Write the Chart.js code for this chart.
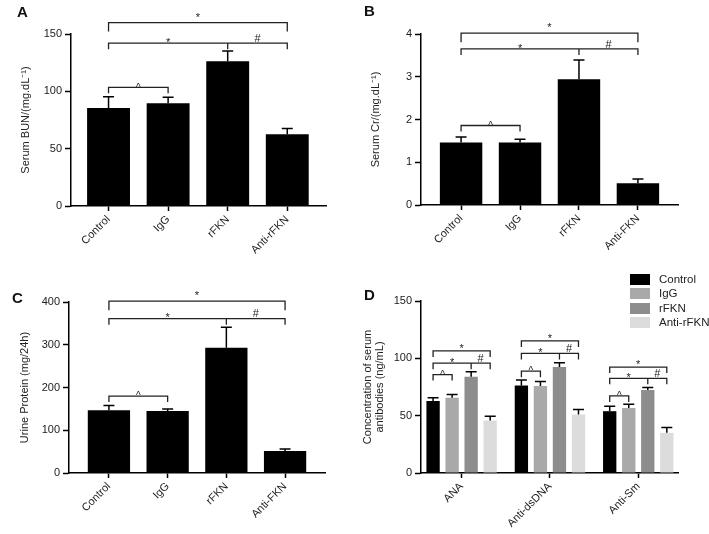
<!DOCTYPE html>
<html>
<head>
<meta charset="utf-8">
<script src="https://cdn.jsdelivr.net/npm/chart.js@4.4.0/dist/chart.umd.min.js"></script>
<style>
  body { margin: 0; background: #fff; }
  #fig { position: relative; width: 709px; height: 534px; font-family: "Liberation Sans", Arial, sans-serif; color: #222; }
  #fig canvas { position: absolute; }
  .tag { position: absolute; font-weight: bold; font-size: 15px; line-height: 15px; color: #111; }
  .key { position: absolute; left: 630px; width: 20px; height: 11px; }
  .keytxt { position: absolute; left: 659px; font-size: 11.5px; line-height: 11px; white-space: nowrap; }
</style>
</head>
<body>
<div id="fig">
  <canvas id="cA" width="350" height="265" style="left:0;top:0"></canvas>
  <canvas id="cB" width="359" height="265" style="left:350px;top:0"></canvas>
  <canvas id="cC" width="350" height="269" style="left:0;top:265px"></canvas>
  <canvas id="cD" width="359" height="269" style="left:350px;top:265px"></canvas>
  <div class="tag" style="left:17px;top:4px">A</div>
  <div class="tag" style="left:364px;top:3px">B</div>
  <div class="tag" style="left:12px;top:290px">C</div>
  <div class="tag" style="left:364px;top:287px">D</div>
  <div id="legend"></div>
</div>
<script>
// ---- data ----
const groupsA = ['Control', 'IgG', 'rFKN', 'Anti-rFKN'];
const groupsBC = ['Control', 'IgG', 'rFKN', 'Anti-FKN'];

const bunMean = [85.5, 89.6, 126.2, 62.5];
const bunErr = [9.8, 5.2, 9.0, 5.0];
const crMean = [1.46, 1.46, 2.94, 0.51];
const crErr = [0.13, 0.08, 0.45, 0.10];
const upMean = [147, 145.3, 293, 51.6];
const upErr = [11, 4.7, 47.7, 4.4];

const antibodies = ['ANA', 'Anti-dsDNA', 'Anti-Sm'];
const seriesNames = ['Control', 'IgG', 'rFKN', 'Anti-rFKN'];
const abControl = [62.7, 76.4, 53.9];
const abControlErr = [2.9, 4.6, 4.4];
const abIgG = [65.6, 75.8, 56.6];
const abIgGErr = [2.9, 4.1, 3.4];
const abRFKN = [84.0, 92.4, 72.3];
const abRFKNErr = [4.3, 3.8, 2.3];
const abAnti = [45.8, 51.0, 35.0];
const abAntiErr = [3.8, 4.4, 4.7];
const seriesColors = ['#000000', '#a9a9a9', '#8d8d8d', '#dcdcdc'];

const yTicksA = [0, 50, 100, 150];
const yTicksB = [0, 1, 2, 3, 4];
const yTicksC = [0, 100, 200, 300, 400];
const yTicksD = [0, 50, 100, 150];

// significance brackets (level in axis units)
const sigA = [
  { from: 0, to: 3, y: 160, text: ['*'] },
  { from: 0, to: 3, mid: 2, y: 142, text: ['*', '#'] },
  { from: 0, to: 1, y: 103.5, text: ['^'] }
];
const sigB = [
  { from: 0, to: 3, y: 4.02, text: ['*'] },
  { from: 0, to: 3, mid: 2, y: 3.65, text: ['*', '#'] },
  { from: 0, to: 1, y: 1.86, text: ['^'] }
];
const sigC = [
  { from: 0, to: 3, y: 402, text: ['*'] },
  { from: 0, to: 3, mid: 2, y: 361, text: ['*', '#'] },
  { from: 0, to: 1, y: 180, text: ['^'] }
];
const sigD = [
  { group: 0, from: 0, to: 3, y: 106.5, text: ['*'] },
  { group: 0, from: 0, to: 3, mid: 2, y: 95.8, text: ['*', '#'] },
  { group: 0, from: 0, to: 1, y: 85.8, text: ['^'] },
  { group: 1, from: 0, to: 3, y: 115.2, text: ['*'] },
  { group: 1, from: 0, to: 3, mid: 2, y: 104.3, text: ['*', '#'] },
  { group: 1, from: 0, to: 1, y: 88.8, text: ['^'] },
  { group: 2, from: 0, to: 3, y: 92.4, text: ['*'] },
  { group: 2, from: 0, to: 3, mid: 2, y: 82.6, text: ['*', '#'] },
  { group: 2, from: 0, to: 1, y: 67.2, text: ['^'] }
];

Chart.defaults.font.family = '"Liberation Sans", Arial, sans-serif';
Chart.defaults.font.size = 11;
Chart.defaults.color = '#222';

// error bars (upper only, with cap)
const errorBars = {
  id: 'errorBars',
  afterDatasetsDraw(chart) {
    const ctx = chart.ctx;
    const y = chart.scales.y;
    ctx.save();
    ctx.strokeStyle = '#000';
    ctx.lineWidth = 1.5;
    chart.data.datasets.forEach((ds, i) => {
      chart.getDatasetMeta(i).data.forEach((bar, j) => {
        const top = y.getPixelForValue(ds.data[j].y + ds.err[j]);
        const half = Math.min(5.5, bar.width / 2 - 0.5);
        ctx.beginPath();
        ctx.moveTo(bar.x, bar.y);
        ctx.lineTo(bar.x, top);
        ctx.moveTo(bar.x - half, top);
        ctx.lineTo(bar.x + half, top);
        ctx.stroke();
      });
    });
    ctx.restore();
  }
};

const sigBrackets = {
  id: 'sig',
  afterDraw(chart, args, opts) {
    const ctx = chart.ctx;
    const y = chart.scales.y;
    const px = (g, k) => opts.grouped
      ? chart.getDatasetMeta(k).data[g].x
      : chart.getDatasetMeta(0).data[k].x;
    ctx.save();
    ctx.strokeStyle = '#222';
    ctx.fillStyle = '#222';
    ctx.lineWidth = 1.3;
    ctx.textAlign = 'center';
    ctx.textBaseline = 'alphabetic';
    opts.list.forEach((b, i) => {
      const first = i === 0 || opts.list[i - 1].group !== b.group;
      const drop = first ? opts.topDrop : 6;
      const yy = y.getPixelForValue(b.y);
      const x1 = px(b.group, b.from), x2 = px(b.group, b.to);
      ctx.beginPath();
      ctx.moveTo(x1, yy + drop);
      ctx.lineTo(x1, yy);
      ctx.lineTo(x2, yy);
      ctx.lineTo(x2, yy + drop);
      const spans = [];
      if (b.mid !== undefined) {
        const xm = px(b.group, b.mid);
        ctx.moveTo(xm, yy);
        ctx.lineTo(xm, yy + 6);
        spans.push([x1, xm], [xm, x2]);
      } else {
        spans.push([x1, x2]);
      }
      ctx.stroke();
      b.text.forEach((t, n) => {
        const cx = (spans[n][0] + spans[n][1]) / 2;
        if (t === '^') {
          ctx.font = '10px "Liberation Sans", Arial';
          ctx.fillText(t, cx, yy + 3.3);
        } else if (t === '#') {
          ctx.font = '11px "Liberation Sans", Arial';
          ctx.fillText(t, cx, yy - 1.2);
        } else {
          ctx.font = '11px "Liberation Sans", Arial';
          ctx.fillText(t, cx, yy + (first ? opts.topStar : 2.6));
        }
      });
    });
    ctx.restore();
  }
};

function yAxis(ticks, title, titlePad, width) {
  return {
    min: ticks[0],
    max: ticks[ticks.length - 1],
    afterBuildTicks: s => { s.ticks = ticks.map(v => ({ value: v })); },
    afterFit: s => { s.width = width; },
    border: { color: '#000', width: 1.5 },
    grid: { drawOnChartArea: false, color: '#000', tickLength: 6, tickWidth: 1.5 },
    ticks: { padding: 3 },
    title: {
      display: true, text: title, color: '#222',
      padding: { top: titlePad, bottom: 0 },
      font: { size: 11, lineHeight: 1.1 }
    }
  };
}

function xAxis(labels, min, max, height) {
  return {
    type: 'linear', min: min, max: max, offset: false,
    afterBuildTicks: s => { s.ticks = labels.map((l, i) => ({ value: i })); },
    afterFit: s => { s.height = height; },
    border: { color: '#000', width: 1.5 },
    grid: { drawOnChartArea: false, offset: false, color: '#000', tickLength: 5, tickWidth: 1.5 },
    ticks: { autoSkip: false, minRotation: 45, maxRotation: 45, padding: 2, callback: v => labels[v] }
  };
}

function barPanel(id, labels, means, errs, ticks, title, geo, sig) {
  new Chart(document.getElementById(id), {
    type: 'bar',
    data: {
      datasets: [{
        data: means.map((v, i) => ({ x: i, y: v })),
        err: errs,
        backgroundColor: '#000',
        borderWidth: 0,
        barPercentage: 0.9,
        categoryPercentage: 0.8
      }]
    },
    options: {
      responsive: false,
      animation: false,
      layout: { padding: { left: 0, right: geo.right, top: geo.top, bottom: 0 } },
      scales: {
        x: xAxis(labels, geo.min, geo.max, geo.xh),
        y: yAxis(ticks, title, geo.tpad, geo.yw)
      },
      plugins: {
        legend: { display: false },
        tooltip: { enabled: false },
        sig: { list: sig, topDrop: 9, topStar: -2 }
      }
    },
    plugins: [errorBars, sigBrackets]
  });
}

barPanel('cA', groupsA, bunMean, bunErr, yTicksA, 'Serum BUN/(mg.dL\u207B\u00B9)',
  { right: 24, top: 34, xh: 59, yw: 71, min: -0.63, max: 3.65, tpad: 20 }, sigA);
barPanel('cB', groupsBC, crMean, crErr, yTicksB, 'Serum Cr/(mg.dL\u207B\u00B9)',
  { right: 31, top: 34, xh: 60, yw: 71, min: -0.68, max: 3.68, tpad: 20 }, sigB);
barPanel('cC', groupsBC, upMean, upErr, yTicksC, 'Urine Protein (mg/24h)',
  { right: 25, top: 37, xh: 61, yw: 69, min: -0.68, max: 3.68, tpad: 19 }, sigC);

// panel D: grouped bars
const abSeries = [abControl, abIgG, abRFKN, abAnti];
const abErrs = [abControlErr, abIgGErr, abRFKNErr, abAntiErr];
new Chart(document.getElementById('cD'), {
  type: 'bar',
  data: {
    datasets: abSeries.map((vals, k) => ({
      label: seriesNames[k],
      data: vals.map((v, i) => ({ x: i, y: v })),
      err: abErrs[k],
      backgroundColor: seriesColors[k],
      borderWidth: 0,
      barPercentage: 0.70,
      categoryPercentage: 0.862
    }))
  },
  options: {
    responsive: false,
    animation: false,
    layout: { padding: { left: 0, right: 31, top: 36, bottom: 0 } },
    scales: {
      x: xAxis(antibodies, -0.46, 2.45, 61),
      y: yAxis(yTicksD, ['Concentration of serum', 'antibodies (ng/mL)'], 12, 71)
    },
    plugins: {
      legend: { display: false },
      tooltip: { enabled: false },
      sig: { list: sigD, grouped: true, topDrop: 6, topStar: 1.4 }
    }
  },
  plugins: [errorBars, sigBrackets]
});

// legend for D
const legend = document.getElementById('legend');
seriesNames.forEach((name, k) => {
  const top = 273.5 + k * 14.5;
  legend.insertAdjacentHTML('beforeend',
    `<div class="key" style="top:${top}px;background:${seriesColors[k]}"></div>` +
    `<div class="keytxt" style="top:${top}px">${name}</div>`);
});
</script>
</body>
</html>
